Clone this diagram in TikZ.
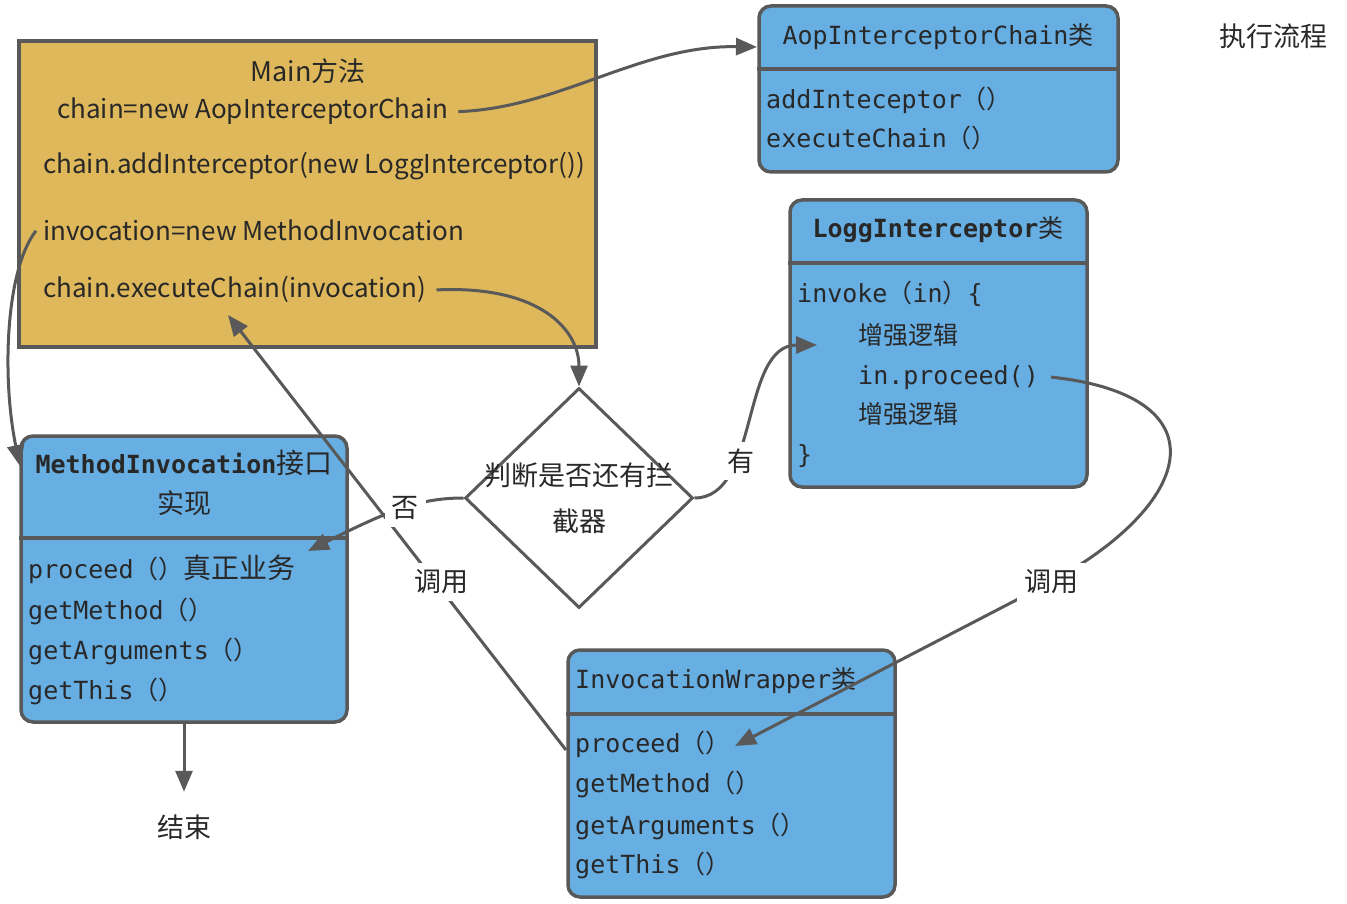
\documentclass[tikz,border=0pt]{standalone}
\usepackage{fontspec}
\setmainfont{Noto Sans CJK SC}
\setmonofont{DejaVu Sans Mono}
\newfontfamily\cjk{Noto Sans CJK SC}
\usepackage{xcolor}
\definecolor{gold}{RGB}{222,184,90}
\definecolor{sky}{RGB}{103,174,226}
\definecolor{edge}{RGB}{89,89,89}
\definecolor{ink}{RGB}{40,40,40}
\usetikzlibrary{shapes.geometric}
\usetikzlibrary{arrows.meta}
\newcommand{\zh}[1]{{\cjk #1}}

\begin{document}
\begin{tikzpicture}[x=1pt,y=-1pt,
  classbox/.style={draw=edge,fill=sky,line width=3.5pt,rounded corners=12pt,inner sep=0pt},
  divider/.style={draw=edge,line width=3.5pt},
  sans/.style={font=\fontsize{27}{32}\selectfont,text=ink,inner sep=0pt},
  mainline/.style={font=\fontsize{26}{32}\selectfont,text=ink,inner sep=0pt,anchor=base west},
  code/.style={font=\fontsize{25}{30}\selectfont\ttfamily,text=ink,inner sep=0pt,anchor=base west},
  flow/.style={draw=edge,line width=3pt,-{Triangle[length=21pt,width=17pt]}},
  tag/.style={sans,fill=white,inner sep=7pt}]

\useasboundingbox (0,0) rectangle (1347,904);

% Main
\node (main) at (307.5,194) [draw=edge,fill=gold,line width=3.5pt,minimum width=577pt,minimum height=306pt]{};
\node (mainttl) at (308,82) [sans,anchor=base] {Main方法};
\node (newchain) at (57,119) [mainline] {chain=new AopInterceptorChain};
\node (addint) at (43,174) [mainline] {chain.addInterceptor(new LoggInterceptor())};
\node (newinv) at (43,241) [mainline] {invocation=new MethodInvocation};
\node (exec) at (43,298) [mainline] {chain.executeChain(invocation)};

\node (title) at (1273,36) [sans] {执行流程};

% AopInterceptorChain
\node (aop) at (938.5,89) [classbox,minimum width=359pt,minimum height=166pt]{};
\draw[divider] (aop.west |- 0,69) -- (aop.east |- 0,69);
\node (aopttl) at (938,45) [code,anchor=base] {AopInterceptorChain\zh{类}};
\node (aopadd) at (766,109) [code] {addInteceptor\zh{（）}};
\node (aopexec) at (766,148) [code] {executeChain\zh{（）}};

% LoggInterceptor
\node (logg) at (938.5,343.5) [classbox,minimum width=297pt,minimum height=287pt]{};
\draw[divider] (logg.west |- 0,263) -- (logg.east |- 0,263);
\node (loggttl) at (938,238) [code,anchor=base] {\bfseries LoggInterceptor\zh{\mdseries 类}};
\node (invoke) at (797,302) [code] {invoke\zh{（}in\zh{）}\{};
\node (enh1) at (858,335) [code,anchor=west] {\zh{增强逻辑}};
\node (lproc) at (858,384) [code] {in.proceed()};
\node (enh2) at (858,414) [code,anchor=west] {\zh{增强逻辑}};
\node (close) at (797,463) [code] {\}};

% MethodInvocation
\node (methinv) at (184,579) [classbox,minimum width=326pt,minimum height=286pt]{};
\draw[divider] (methinv.west |- 0,538) -- (methinv.east |- 0,538);
\node (mittl) at (184,473) [code,anchor=base] {\bfseries MethodInvocation\zh{\mdseries\fontsize{28}{30}\selectfont 接口}};
\node (mittl2) at (184,503) [sans] {实现};
\node (miproc) at (28,578) [code] {proceed\zh{（）\fontsize{28}{30}\selectfont 真正业务}};
\node (mimeth) at (28,619) [code] {getMethod\zh{（）}};
\node (miargs) at (28,659) [code] {getArguments\zh{（）}};
\node (mithis) at (28,699) [code] {getThis\zh{（）}};

% InvocationWrapper
\node (wrap) at (731.5,773.5) [classbox,minimum width=327pt,minimum height=247pt]{};
\draw[divider] (wrap.west |- 0,714) -- (wrap.east |- 0,714);
\node (wrapttl) at (575,688) [code] {InvocationWrapper\zh{类}};
\node (wrproc) at (575,752) [code] {proceed\zh{（）}};
\node (wrmeth) at (575,792) [code] {getMethod\zh{（）}};
\node (wrargs) at (575,834) [code] {getArguments\zh{（）}};
\node (wrthis) at (575,873) [code] {getThis\zh{（）}};

% decision
\node (judge) at (579,498) [diamond,draw=edge,line width=3pt,fill=white,minimum width=228pt,minimum height=220pt,inner sep=0pt]{};
\node (judgetxt) at (judge) [sans,align=center,font=\fontsize{27}{46}\selectfont] {判断是否还有拦\\截器};

\node (fin) at (184,827) [sans] {结束};

% connectors
\coordinate (aopin) at (757,47);
\coordinate (miin) at (20,466);
\coordinate (loggin) at (817,345);
\coordinate (miarrow) at (308,551);
\coordinate (callbend) at (1051,582);
\coordinate (wrin) at (735,746);
\coordinate (wrout) at (566,750);
\coordinate (execin) at (228,315);

\draw[flow] ([xshift=10pt]newchain.east) .. controls (560,108) and (640,45) .. (aopin);
\draw[flow] ([xshift=-7pt]newinv.west) .. controls (5,270) and (2,380) .. (miin);
\draw[flow] ([xshift=10pt]exec.east) .. controls (540,285) and (579,330) .. (judge.north);
\draw[flow] (judge.east) .. controls (760,498) and (740,345) .. (loggin);
\draw[flow] (judge.west) .. controls (420,498) and (390,510) .. (miarrow);
\draw[flow] ([xshift=12pt]lproc.east) .. controls (1220,395) and (1200,500) .. (callbend) -- (wrin);
\draw[flow] (wrout) -- (execin);
\draw[flow] (methinv.south) -- ++(0,68) coordinate (finin);

\node (yes) at (741,461) [tag] {有};
\node (no) at (405,508) [tag] {否};
\node (callr) at (1051,582) [tag] {调用};
\node (calll) at (441,582) [tag] {调用};
\end{tikzpicture}
\end{document}
